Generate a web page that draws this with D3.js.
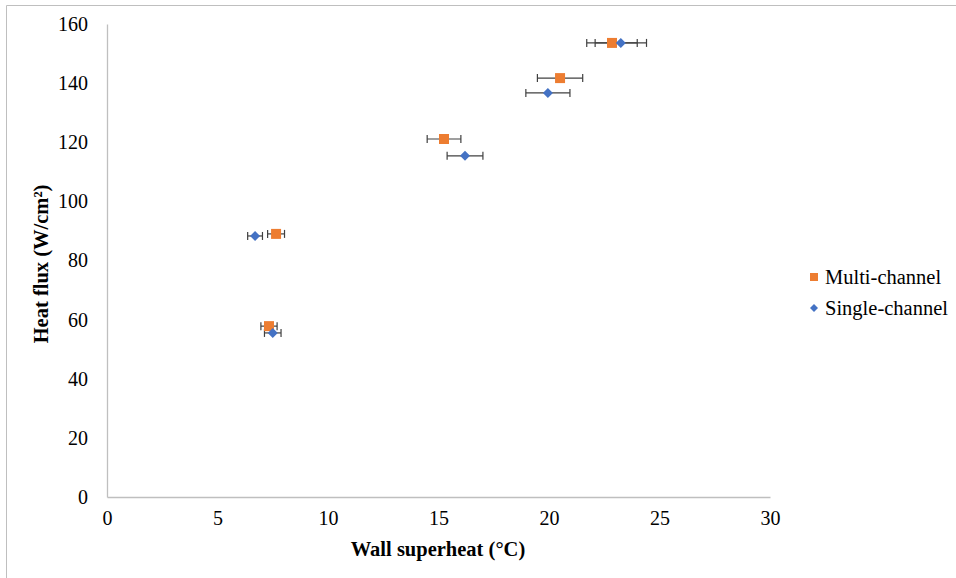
<!DOCTYPE html>
<html><head><meta charset="utf-8">
<script src="https://cdn.jsdelivr.net/npm/d3@7"></script>
<style>body{margin:0;background:#fff}svg{display:block}svg text{font-family:"Liberation Serif","Times New Roman",serif !important;fill:#000}</style>
</head><body>
<script>
const seriesNames = ["Multi-channel", "Single-channel"];
const multiX = [22.85, 20.5, 15.25, 7.65, 7.33];
const multiY = [153.6, 141.7, 121.1, 89.0, 57.8];
const singleX = [23.25, 19.95, 16.2, 6.7, 7.5];
const singleY = [153.6, 136.7, 115.4, 88.3, 55.5];
const errFrac = 0.05;
const xTicks = [0, 5, 10, 15, 20, 25, 30];
const yTicks = [0, 20, 40, 60, 80, 100, 120, 140, 160];

const W = 956, H = 578;
const svg = d3.select("body").append("svg").attr("width", W).attr("height", H);

svg.append("path").attr("d", "M6.5,578V5.5H956").attr("fill", "none").attr("stroke", "#bfbfbf");

const x = d3.scaleLinear().domain([0, 30]).range([107, 770]);
const y = d3.scaleLinear().domain([0, 160]).range([497, 24]);

const xa = svg.append("g").attr("transform", "translate(0,497)")
  .call(d3.axisBottom(x).tickValues(xTicks).tickSize(0).tickPadding(14));
const ya = svg.append("g").attr("transform", "translate(107,0)")
  .call(d3.axisLeft(y).tickValues(yTicks).tickSize(0).tickPadding(19));
[xa, ya].forEach(a => {
  a.select(".domain").attr("stroke", "#bfbfbf").attr("stroke-width", 1.3);
  a.selectAll("text").attr("font-size", 20).attr("fill", "#000");
});

function errBars(xs, ys) {
  const g = svg.append("g").attr("stroke", "#404040").attr("stroke-width", 1.2);
  xs.forEach((v, i) => {
    const x0 = x(v * (1 - errFrac)), x1 = x(v * (1 + errFrac)), yy = y(ys[i]);
    g.append("line").attr("x1", x0).attr("x2", x1).attr("y1", yy).attr("y2", yy);
    g.append("line").attr("x1", x0).attr("x2", x0).attr("y1", yy - 4).attr("y2", yy + 4);
    g.append("line").attr("x1", x1).attr("x2", x1).attr("y1", yy - 4).attr("y2", yy + 4);
  });
}
errBars(multiX, multiY);
errBars(singleX, singleY);

const sq = d3.symbol().type(d3.symbolSquare).size(100);

svg.append("g").selectAll("path").data(multiX).join("path")
  .attr("d", sq).attr("fill", "#ed7d31")
  .attr("transform", (d, i) => `translate(${x(d)},${y(multiY[i])})`);
svg.append("g").selectAll("path").data(singleX).join("path")
  .attr("d", d3.symbol().type(d3.symbolSquare).size(50)).attr("fill", "#4472c4")
  .attr("transform", (d, i) => `translate(${x(d)},${y(singleY[i])}) rotate(45)`);

// legend
const leg = svg.append("g");
seriesNames.forEach((n, i) => {
  const yy = 277 + i * 31;
  if (i === 0) leg.append("rect").attr("x", 810).attr("y", yy - 4).attr("width", 8).attr("height", 8).attr("fill", "#ed7d31");
  else leg.append("path").attr("d", d3.symbol().type(d3.symbolSquare).size(32)).attr("fill", "#4472c4").attr("transform", `translate(814,${yy}) rotate(45)`);
  leg.append("text").attr("x", 825).attr("y", yy).attr("dy", "0.35em").attr("font-size", 20.5).text(n);
});

svg.append("text").attr("x", 438).attr("y", 556).attr("text-anchor", "middle")
  .attr("font-weight", "bold").attr("font-size", 20.5).text("Wall superheat (°C)");
svg.append("text").attr("transform", "translate(48,264) rotate(-90)").attr("text-anchor", "middle")
  .attr("font-weight", "bold").attr("font-size", 20.5).text("Heat flux (W/cm²)");
</script>
</body></html>
